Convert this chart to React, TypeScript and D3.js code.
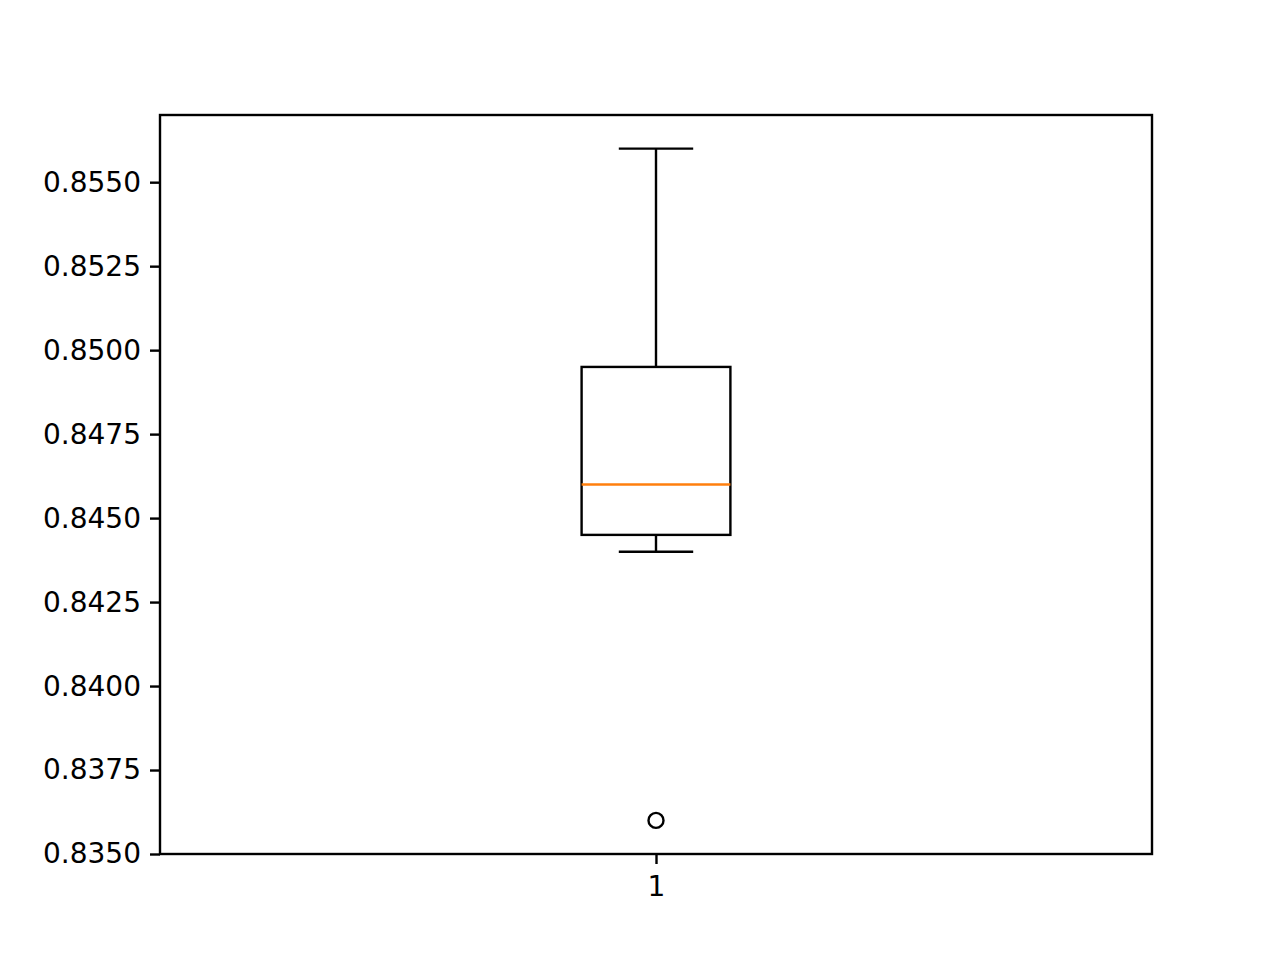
import * as d3 from "d3";
import { useEffect, useRef } from "react";

// box statistics
const categories = ["1"];
const whiskerLow = [0.844];
const q1 = [0.8445];
const median = [0.846];
const q3 = [0.8495];
const whiskerHigh = [0.856];
const outliers = [[0.836]];
const yTicks = [0.835, 0.8375, 0.84, 0.8425, 0.845, 0.8475, 0.85, 0.8525, 0.855];

export default function App() {
  const ref = useRef<SVGSVGElement | null>(null);

  useEffect(() => {
    if (!ref.current) return;
    const width = 1280;
    const height = 960;
    const margin = { top: 115, right: 128, bottom: 106, left: 160 };
    const innerW = width - margin.left - margin.right;
    const innerH = height - margin.top - margin.bottom;

    const x = d3.scaleLinear().domain([0.5, categories.length + 0.5]).range([0, innerW]);
    const y = d3.scaleLinear().domain([0.835, 0.857]).range([innerH, 0]);

    const svg = d3.select(ref.current);
    svg.selectAll("*").remove();
    const g = svg.append("g").attr("transform", `translate(${margin.left},${margin.top})`);

    const font = "'DejaVu Sans', sans-serif";
    const sw = 2.4;
    const boxHalf = 0.075;
    const capHalf = 0.0375;

    categories.forEach((c, i) => {
      const cx = x(i + 1);
      // whiskers
      g.append("line").attr("x1", cx).attr("x2", cx).attr("y1", y(q3[i])).attr("y2", y(whiskerHigh[i]))
        .attr("stroke", "#000").attr("stroke-width", sw);
      g.append("line").attr("x1", cx).attr("x2", cx).attr("y1", y(q1[i])).attr("y2", y(whiskerLow[i]))
        .attr("stroke", "#000").attr("stroke-width", sw);
      // caps
      [whiskerHigh[i], whiskerLow[i]].forEach((v) => {
        g.append("line").attr("x1", x(i + 1 - capHalf)).attr("x2", x(i + 1 + capHalf))
          .attr("y1", y(v)).attr("y2", y(v)).attr("stroke", "#000").attr("stroke-width", sw);
      });
      // box
      g.append("rect").attr("x", x(i + 1 - boxHalf)).attr("y", y(q3[i]))
        .attr("width", x(i + 1 + boxHalf) - x(i + 1 - boxHalf)).attr("height", y(q1[i]) - y(q3[i]))
        .attr("fill", "none").attr("stroke", "#000").attr("stroke-width", sw);
      // median
      g.append("line").attr("x1", x(i + 1 - boxHalf)).attr("x2", x(i + 1 + boxHalf))
        .attr("y1", y(median[i])).attr("y2", y(median[i])).attr("stroke", "#ff7f0e").attr("stroke-width", sw);
      // fliers
      outliers[i].forEach((v) => {
        g.append("circle").attr("cx", cx).attr("cy", y(v)).attr("r", 7.5)
          .attr("fill", "none").attr("stroke", "#000").attr("stroke-width", sw);
      });
    });

    const yAxis = d3.axisLeft(y).tickValues(yTicks).tickFormat((v) => d3.format(".4f")(v as number))
      .tickSize(10).tickPadding(9);
    const xAxis = d3.axisBottom(x).tickValues(categories.map((_, i) => i + 1))
      .tickFormat((_, i) => categories[i]).tickSize(10).tickPadding(12);

    const ya = g.append("g").call(yAxis);
    const xa = g.append("g").attr("transform", `translate(0,${innerH})`).call(xAxis);
    [ya, xa].forEach((a) => {
      a.select(".domain").remove();
      a.selectAll(".tick line").attr("stroke", "#000").attr("stroke-width", sw);
      a.selectAll("text").attr("fill", "#000").style("font-family", font).style("font-size", "28px");
    });

    g.append("rect").attr("x", 0).attr("y", 0).attr("width", innerW).attr("height", innerH)
      .attr("fill", "none").attr("stroke", "#000").attr("stroke-width", sw);
  }, []);

  return (
    <svg ref={ref} width={1280} height={960} style={{ display: "block", position: "absolute", left: 0, top: 0, background: "#fff" }} />
  );
}
